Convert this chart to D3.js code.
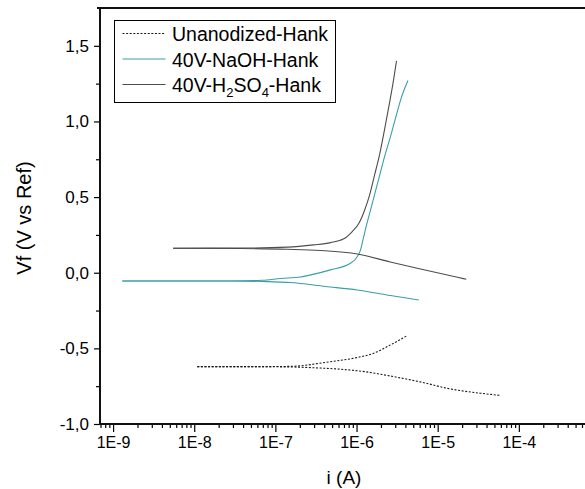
<!DOCTYPE html>
<html>
<head>
<meta charset="utf-8">
<script src="https://cdn.jsdelivr.net/npm/d3@7"></script>
<style>
  body { margin: 0; background: #fff; }
  svg { display: block; }
  text { font-family: "Liberation Sans", Arial, sans-serif; fill: #000; }
</style>
</head>
<body>
<svg id="chart" width="585" height="489"></svg>
<script>
// Potentiodynamic polarization curves in Hank's solution.
// Each branch: [current i (A), potential Vf (V vs Ref)], ordered by increasing current.

const unanodizedCathodic = [
  [1.09e-8, -0.621], [4.93e-8, -0.621], [1.53e-7, -0.623], [2.9e-7, -0.628],
  [6.35e-7, -0.638], [1.3e-6, -0.655], [2.62e-6, -0.683], [6.76e-6, -0.727],
  [1.31e-5, -0.764], [3.38e-5, -0.797], [5.96e-5, -0.811]
];
const unanodizedAnodic = [
  [1.09e-8, -0.621], [4.93e-8, -0.621], [1.53e-7, -0.619], [4.77e-7, -0.588],
  [9.7e-7, -0.563], [1.63e-6, -0.532], [2.62e-6, -0.477], [4.22e-6, -0.415]
];

const naohCathodic = [
  [1.30e-9, -0.055], [3.83e-9, -0.055], [2.79e-8, -0.055], [6.93e-8, -0.058],
  [1.53e-7, -0.065], [4.15e-7, -0.091], [1.02e-6, -0.114], [2.62e-6, -0.151],
  [5.86e-6, -0.180]
];
const naohAnodic = [
  [1.30e-9, -0.055], [2.79e-8, -0.055], [6.9e-8, -0.050], [1.16e-7, -0.038],
  [2.05e-7, -0.028], [2.9e-7, -0.011], [4.77e-7, 0.019], [8.43e-7, 0.063],
  [1.02e-6, 0.106], [1.12e-6, 0.151], [1.20e-6, 0.217], [1.33e-6, 0.316],
  [1.49e-6, 0.415], [1.69e-6, 0.528], [1.92e-6, 0.640], [2.21e-6, 0.766],
  [2.55e-6, 0.878], [3.03e-6, 1.024], [3.59e-6, 1.163], [4.30e-6, 1.271]
];

const h2so4Cathodic = [
  [5.5e-9, 0.162], [3.7e-8, 0.160], [1.4e-7, 0.155], [3.6e-7, 0.147],
  [1.02e-6, 0.124], [2.6e-6, 0.071], [5.6e-6, 0.030], [1.75e-5, -0.030],
  [2.25e-5, -0.043]
];
const h2so4Anodic = [
  [5.5e-9, 0.162], [3.7e-8, 0.163], [1.41e-7, 0.169], [2.97e-7, 0.184],
  [4.77e-7, 0.199], [6.97e-7, 0.224], [8.85e-7, 0.272], [1.07e-6, 0.327],
  [1.26e-6, 0.415], [1.45e-6, 0.515], [1.67e-6, 0.647], [1.92e-6, 0.779],
  [2.21e-6, 0.944], [2.59e-6, 1.143], [2.86e-6, 1.275], [3.11e-6, 1.401]
];

const xMajorTicks = [1e-9, 1e-8, 1e-7, 1e-6, 1e-5, 1e-4];
const yMajorTicks = [-1.0, -0.5, 0.0, 0.5, 1.0, 1.5];
const yMinorTicks = [-0.75, -0.25, 0.25, 0.75, 1.25];

const legendLabels = ["Unanodized-Hank", "40V-NaOH-Hank", "40V-H2SO4-Hank"];
const xTitle = "i (A)";
const yTitle = "Vf (V vs Ref)";

// ---------------------------------------------------------------
const svg = d3.select("#chart");
const plot = { left: 100, top: 8, bottom: 424, right: 600 };

const x = d3.scaleLog().domain([7e-10, 1e-3]).range([plot.left + 0.5, plot.right]);
const y = d3.scaleLinear().domain([-1.0, 1.75]).range([plot.bottom, plot.top]);

// minor log ticks (2..9 in each decade)
const xMinorTicks = [];
for (let d = -10; d <= -3; d++) {
  for (let m = 2; m <= 9; m++) {
    const v = m * Math.pow(10, d);
    if (v >= 7e-10 && v <= 1e-3) xMinorTicks.push(v);
  }
}

const fmtExp = v => "1E" + Math.round(Math.log10(v));
const fmtComma = v => (v < 0 ? "-" : "") + Math.abs(v).toFixed(1).replace(".", ",");

// axes ticks
const gxMinor = svg.append("g").attr("transform", `translate(0,${plot.bottom})`)
  .call(d3.axisBottom(x).tickValues(xMinorTicks).tickSize(4).tickFormat(""));
const gx = svg.append("g").attr("transform", `translate(0,${plot.bottom})`)
  .call(d3.axisBottom(x).tickValues(xMajorTicks).tickSize(8).tickPadding(5).tickFormat(fmtExp));
const gyMinor = svg.append("g").attr("transform", `translate(${plot.left},0)`)
  .call(d3.axisLeft(y).tickValues(yMinorTicks).tickSize(4).tickFormat(""));
const gy = svg.append("g").attr("transform", `translate(${plot.left},0)`)
  .call(d3.axisLeft(y).tickValues(yMajorTicks).tickSize(6).tickPadding(5).tickFormat(fmtComma));

[gxMinor, gx, gyMinor, gy].forEach(g => {
  g.select(".domain").remove();
  g.selectAll(".tick line").attr("stroke", "#000").attr("stroke-width", 1.2);
});
gx.selectAll(".tick text").attr("font-size", 16).attr("font-family", "Liberation Sans, Arial, sans-serif").attr("fill", "#000");
gy.selectAll(".tick text").attr("font-size", 17).attr("font-family", "Liberation Sans, Arial, sans-serif").attr("fill", "#000");

// frame: left, bottom, top
const frame = svg.append("g").attr("stroke", "#111").attr("stroke-width", 2).attr("fill", "none");
frame.append("line").attr("x1", plot.left).attr("x2", plot.left).attr("y1", plot.top - 1).attr("y2", plot.bottom + 1);
frame.append("line").attr("x1", plot.left - 1).attr("x2", 600).attr("y1", plot.bottom).attr("y2", plot.bottom);
frame.append("line").attr("x1", plot.left - 3).attr("x2", 600).attr("y1", plot.top).attr("y2", plot.top);

// axis titles
svg.append("text").attr("x", 344).attr("y", 484).attr("text-anchor", "middle")
  .attr("font-size", 19).text(xTitle);
svg.append("text").attr("transform", "translate(31,218) rotate(-90)").attr("text-anchor", "middle")
  .attr("font-size", 20).text(yTitle);

// curves
const line = d3.line().x(d => x(d[0])).y(d => y(d[1])).curve(d3.curveMonotoneX);

const styles = [
  { color: "#1a1a1a", dash: "2,1.6", width: 1.1 },
  { color: "#3a9ea6", dash: null, width: 1.1 },
  { color: "#4d4d4d", dash: null, width: 1.1 }
];
const branches = [
  [unanodizedCathodic, unanodizedAnodic],
  [naohCathodic, naohAnodic],
  [h2so4Cathodic, h2so4Anodic]
];

const curves = svg.append("g");
branches.forEach((pair, i) => {
  pair.forEach(data => {
    curves.append("path").datum(data)
      .attr("fill", "none")
      .attr("stroke", styles[i].color)
      .attr("stroke-width", styles[i].width)
      .attr("stroke-dasharray", styles[i].dash)
      .attr("d", line);
  });
});

// legend
const legend = svg.append("g");
legend.append("rect").attr("x", 114.5).attr("y", 20.5).attr("width", 221).attr("height", 82)
  .attr("fill", "#fff").attr("stroke", "#000").attr("stroke-width", 1);
const rowY = [33.5, 59, 84.5];
legendLabels.forEach((lab, i) => {
  legend.append("line").attr("x1", 122.5).attr("x2", 165.5).attr("y1", rowY[i]).attr("y2", rowY[i])
    .attr("stroke", styles[i].color).attr("stroke-width", 1.1)
    .attr("stroke-dasharray", styles[i].dash);
  const t = legend.append("text").attr("x", 172).attr("y", rowY[i] + 7.5).attr("font-size", 19.5);
  // chemical formula: digits after element symbols are subscripts
  if (lab.includes("H2SO4")) {
    const parts = ["40V-H", "2", "SO", "4", "-Hank"];
    parts.forEach((p, k) => {
      const sub = k === 1 || k === 3;
      t.append("tspan").attr("font-size", sub ? 13 : 19.5)
        .attr("dy", sub ? 5 : (k === 0 ? 0 : -5)).text(p);
    });
  } else {
    t.text(lab);
  }
});
</script>
</body>
</html>
